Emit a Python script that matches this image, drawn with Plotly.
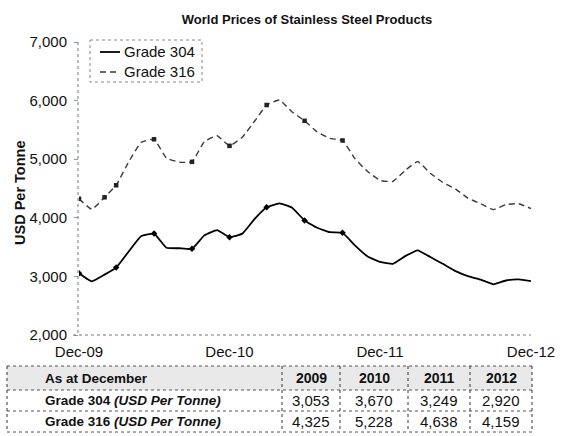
import pandas as pd
import plotly.graph_objects as go

# Monthly prices, Dec-2009 .. Dec-2012 (USD per tonne)
months = pd.date_range(start="2009-12-01", periods=37, freq="MS")
grade_304 = [3053, 2915, 3030, 3150, 3430, 3690, 3730, 3490, 3480, 3470, 3700, 3790,
             3670, 3730, 3990, 4180, 4245, 4175, 3955, 3830, 3755, 3745, 3530, 3340,
             3249, 3215, 3350, 3445, 3330, 3215, 3090, 3005, 2945, 2865, 2930, 2950,
             2920]
grade_316 = [4325, 4145, 4350, 4555, 4960, 5290, 5340, 5020, 4950, 4955, 5300, 5400,
             5228, 5375, 5660, 5925, 6010, 5810, 5655, 5470, 5355, 5320, 5010, 4790,
             4638, 4620, 4815, 4960, 4760, 4605, 4490, 4335, 4240, 4140, 4225, 4240,
             4159]
marker_idx_304 = [0, 3, 6, 9, 12, 15, 18, 21]
marker_idx_316 = [0, 2, 3, 6, 9, 12, 15, 18, 21]

tick_months = ["2009-12-01", "2010-12-01", "2011-12-01", "2012-12-01"]
tick_labels = ["Dec-09", "Dec-10", "Dec-11", "Dec-12"]
y_ticks = [2000, 3000, 4000, 5000, 6000, 7000]

table_years = ["2009", "2010", "2011", "2012"]
table_rows = ["Grade 304 <i>(USD Per Tonne)</i>", "Grade 316 <i>(USD Per Tonne)</i>"]
dec_idx = [0, 12, 24, 36]

FONT = "Liberation Sans, Arial, sans-serif"
INK = "#111111"

# plot area in pixels
L, R, T, B = 79, 531, 42, 335
W, H = R - L, B - T


def xp(px):
    return (px - L) / W


def yp(py):
    return (B - py) / H


fig = go.Figure()

fig.add_trace(go.Scatter(
    x=months, y=grade_304, mode="lines", name="Grade 304", showlegend=False,
    line=dict(color="#000000", width=1.8, shape="spline", smoothing=0.35)))
fig.add_trace(go.Scatter(
    x=months, y=grade_316, mode="lines", name="Grade 316", showlegend=False,
    line=dict(color="#3a3a3a", width=1.4, dash="6px,4px", shape="spline", smoothing=0.35)))
fig.add_trace(go.Scatter(
    x=[months[i] for i in marker_idx_304], y=[grade_304[i] for i in marker_idx_304],
    mode="markers", showlegend=False, hoverinfo="skip",
    marker=dict(symbol="diamond", size=5, color="#000000")))
fig.add_trace(go.Scatter(
    x=[months[i] for i in marker_idx_316], y=[grade_316[i] for i in marker_idx_316],
    mode="markers", showlegend=False, hoverinfo="skip",
    marker=dict(symbol="square", size=4.5, color="#222222")))

shapes = []
annotations = []

# dotted axis lines
shapes.append(dict(type="line", xref="paper", yref="paper", x0=xp(78), x1=xp(78),
                   y0=yp(T), y1=yp(B), line=dict(color="#777777", width=1, dash="dot")))
shapes.append(dict(type="line", xref="paper", yref="paper", x0=xp(73), x1=xp(531),
                   y0=yp(B), y1=yp(B), line=dict(color="#777777", width=1, dash="dot")))

# legend box and samples
shapes.append(dict(type="rect", xref="paper", yref="paper", x0=xp(90), x1=xp(202),
                   y0=yp(40), y1=yp(82), fillcolor="white",
                   line=dict(color="#888888", width=1, dash="dot"), layer="below"))
shapes.append(dict(type="line", xref="paper", yref="paper", x0=xp(100), x1=xp(120),
                   y0=yp(52), y1=yp(52), line=dict(color="#000000", width=1.8)))
shapes.append(dict(type="line", xref="paper", yref="paper", x0=xp(100), x1=xp(120),
                   y0=yp(72), y1=yp(72), line=dict(color="#3a3a3a", width=1.4, dash="6px,4px")))
for name, py in [("Grade 304", 52), ("Grade 316", 72)]:
    annotations.append(dict(text=name, xref="paper", yref="paper", x=xp(122), y=yp(py),
                            xanchor="left", yanchor="middle", showarrow=False,
                            font=dict(family=FONT, size=15, color=INK)))

# y-axis title
annotations.append(dict(text="<b>USD Per Tonne</b>", xref="paper", yref="paper",
                        x=xp(20), y=yp(193), textangle=-90, xanchor="center",
                        yanchor="middle", showarrow=False,
                        font=dict(family=FONT, size=14.5, color=INK)))

# data table below the chart
col_edges = [7, 282, 340, 408, 470, 532]
row_edges = [366, 390, 411, 432]
shapes.append(dict(type="rect", xref="paper", yref="paper", x0=xp(col_edges[0]),
                   x1=xp(col_edges[-1]), y0=yp(row_edges[0]), y1=yp(row_edges[1]),
                   fillcolor="#e9e9e9", line=dict(width=0), layer="below"))
for ry in row_edges:
    shapes.append(dict(type="line", xref="paper", yref="paper", x0=xp(col_edges[0]),
                       x1=xp(col_edges[-1]), y0=yp(ry), y1=yp(ry),
                       line=dict(color="#555555", width=1, dash="dot")))
for cx in col_edges:
    shapes.append(dict(type="line", xref="paper", yref="paper", x0=xp(cx), x1=xp(cx),
                       y0=yp(row_edges[0]), y1=yp(row_edges[-1]),
                       line=dict(color="#333333", width=1, dash="dot")))

row_centers = [(row_edges[i] + row_edges[i + 1]) / 2 for i in range(3)]
annotations.append(dict(text="<b>As at December</b>", xref="paper", yref="paper",
                        x=xp(43), y=yp(row_centers[0]), xanchor="left", yanchor="middle",
                        showarrow=False, font=dict(family=FONT, size=13.5, color=INK)))
for label, rc in zip(table_rows, row_centers[1:]):
    annotations.append(dict(text=f"<b>{label}</b>", xref="paper", yref="paper",
                            x=xp(43), y=yp(rc), xanchor="left", yanchor="middle",
                            showarrow=False, font=dict(family=FONT, size=13.5, color=INK)))
for j, yr in enumerate(table_years):
    cx = (col_edges[j + 1] + col_edges[j + 2]) / 2
    annotations.append(dict(text=f"<b>{yr}</b>", xref="paper", yref="paper",
                            x=xp(cx), y=yp(row_centers[0]), xanchor="center",
                            yanchor="middle", showarrow=False,
                            font=dict(family=FONT, size=14, color=INK)))
    for series, rc in zip([grade_304, grade_316], row_centers[1:]):
        annotations.append(dict(text=f"{series[dec_idx[j]]:,}", xref="paper", yref="paper",
                                x=xp(cx), y=yp(rc), xanchor="center", yanchor="middle",
                                showarrow=False, font=dict(family=FONT, size=15, color=INK)))

fig.update_layout(
    width=563, height=436,
    margin=dict(l=L, r=563 - R, t=T, b=436 - B, autoexpand=False),
    paper_bgcolor="white", plot_bgcolor="white",
    showlegend=False,
    title=dict(text="<b>World Prices of Stainless Steel Products</b>", x=284 / 563,
               xanchor="center", xref="paper", y=1 - 19 / 436, yanchor="middle",
               yref="container", font=dict(family=FONT, size=13, color=INK)),
    xaxis=dict(range=[tick_months[0], tick_months[-1]], tickvals=tick_months,
               ticktext=tick_labels, showgrid=False, showline=False, zeroline=False,
               ticks="", ticklabelstandoff=6,
               tickfont=dict(family=FONT, size=15, color=INK)),
    yaxis=dict(range=[2000, 7000], tickvals=y_ticks, tickformat=",d", showgrid=False,
               showline=False, zeroline=False, ticks="outside", ticklen=4,
               tickcolor="#999999", ticklabelstandoff=4,
               tickfont=dict(family=FONT, size=15, color=INK)),
    shapes=shapes,
    annotations=annotations,
)

fig.write_html("out.html")
